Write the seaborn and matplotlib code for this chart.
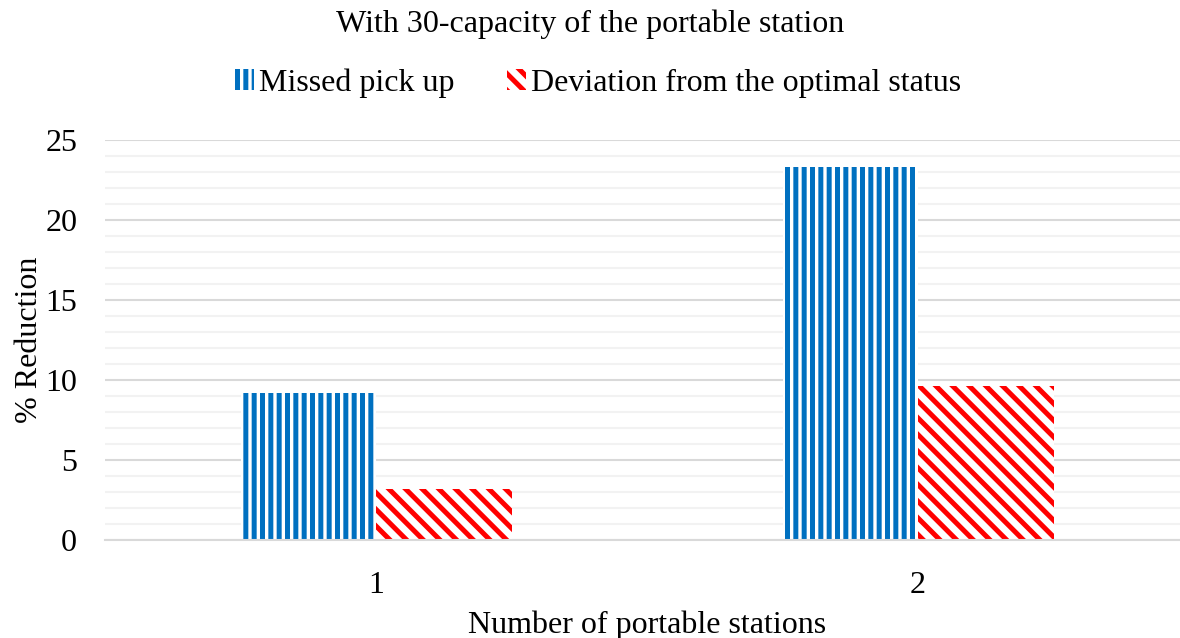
import pandas as pd
import matplotlib.pyplot as plt
import matplotlib.patches as mpatches
import seaborn as sns
from matplotlib.ticker import MultipleLocator

# values
stations = ["1", "2"]
missed_pickup = [9.2, 23.3]
deviation = [3.2, 9.6]
series_names = ["Missed pick up", "Deviation from the optimal status"]
series_colors = ["#0070C0", "#FF0000"]
series_hatches = ["||", "\\\\"]

df = pd.DataFrame({
    "Stations": stations * 2,
    "Reduction": missed_pickup + deviation,
    "Series": [series_names[0]] * 2 + [series_names[1]] * 2,
})

sns.set_style("white")
plt.rcParams["font.family"] = ["Liberation Serif", "DejaVu Serif"]
plt.rcParams["hatch.linewidth"] = 3.6
for k in ["text.color", "axes.labelcolor", "xtick.color", "ytick.color"]:
    plt.rcParams[k] = "black"

fs = 23

fig = plt.figure(figsize=(11.8, 6.38), dpi=100)
ax = fig.add_axes([105 / 1180, 1 - 540 / 638, 1084 / 1180, 400 / 638])

sns.barplot(data=df, x="Stations", y="Reduction", hue="Series",
            palette=series_colors, width=0.5, ax=ax, legend=False)

# white bars with coloured hatching, like the excel pattern fill
for cont, col, h in zip(ax.containers, series_colors, series_hatches):
    for bar in cont:
        bar.set_facecolor("white")
        bar.set_edgecolor(col)
        bar.set_hatch(h)
        bar.set_linewidth(0)

ax.set_xlim(-0.5, 1.5)
ax.set_ylim(0, 25)
ax.yaxis.set_major_locator(MultipleLocator(5))
ax.yaxis.set_minor_locator(MultipleLocator(1))
ax.grid(axis="y", which="major", color="#d9d9d9", linewidth=1.5, zorder=0)
ax.grid(axis="y", which="minor", color="#f2f2f2", linewidth=1.5, zorder=0)
ax.set_axisbelow(True)
for s in ["top", "right", "left"]:
    ax.spines[s].set_visible(False)
ax.spines["bottom"].set_color("#d9d9d9")
ax.spines["bottom"].set_linewidth(1.5)

ax.tick_params(axis="both", which="both", length=0, labelsize=fs)
ax.tick_params(axis="x", pad=22)
ax.tick_params(axis="y", pad=20)
ax.set_xlabel("Number of portable stations", fontsize=fs, labelpad=8)
ax.set_ylabel("% Reduction", fontsize=fs, labelpad=1)

fig.text(0.5, 1 - 24 / 638, "With 30-capacity of the portable station",
         ha="center", va="center", fontsize=fs)

handles = [mpatches.Patch(facecolor="white", edgecolor=c, hatch=h, linewidth=0, label=n)
           for n, c, h in zip(series_names, series_colors, series_hatches)]
fig.legend(handles=handles, loc="center", bbox_to_anchor=(0.5 + 8 / 1180, 1 - 83 / 638),
           ncol=2, frameon=False, fontsize=fs, handlelength=0.6, handleheight=0.6,
           handletextpad=0.15, columnspacing=1.63)

fig.savefig("out.png", dpi=100)
